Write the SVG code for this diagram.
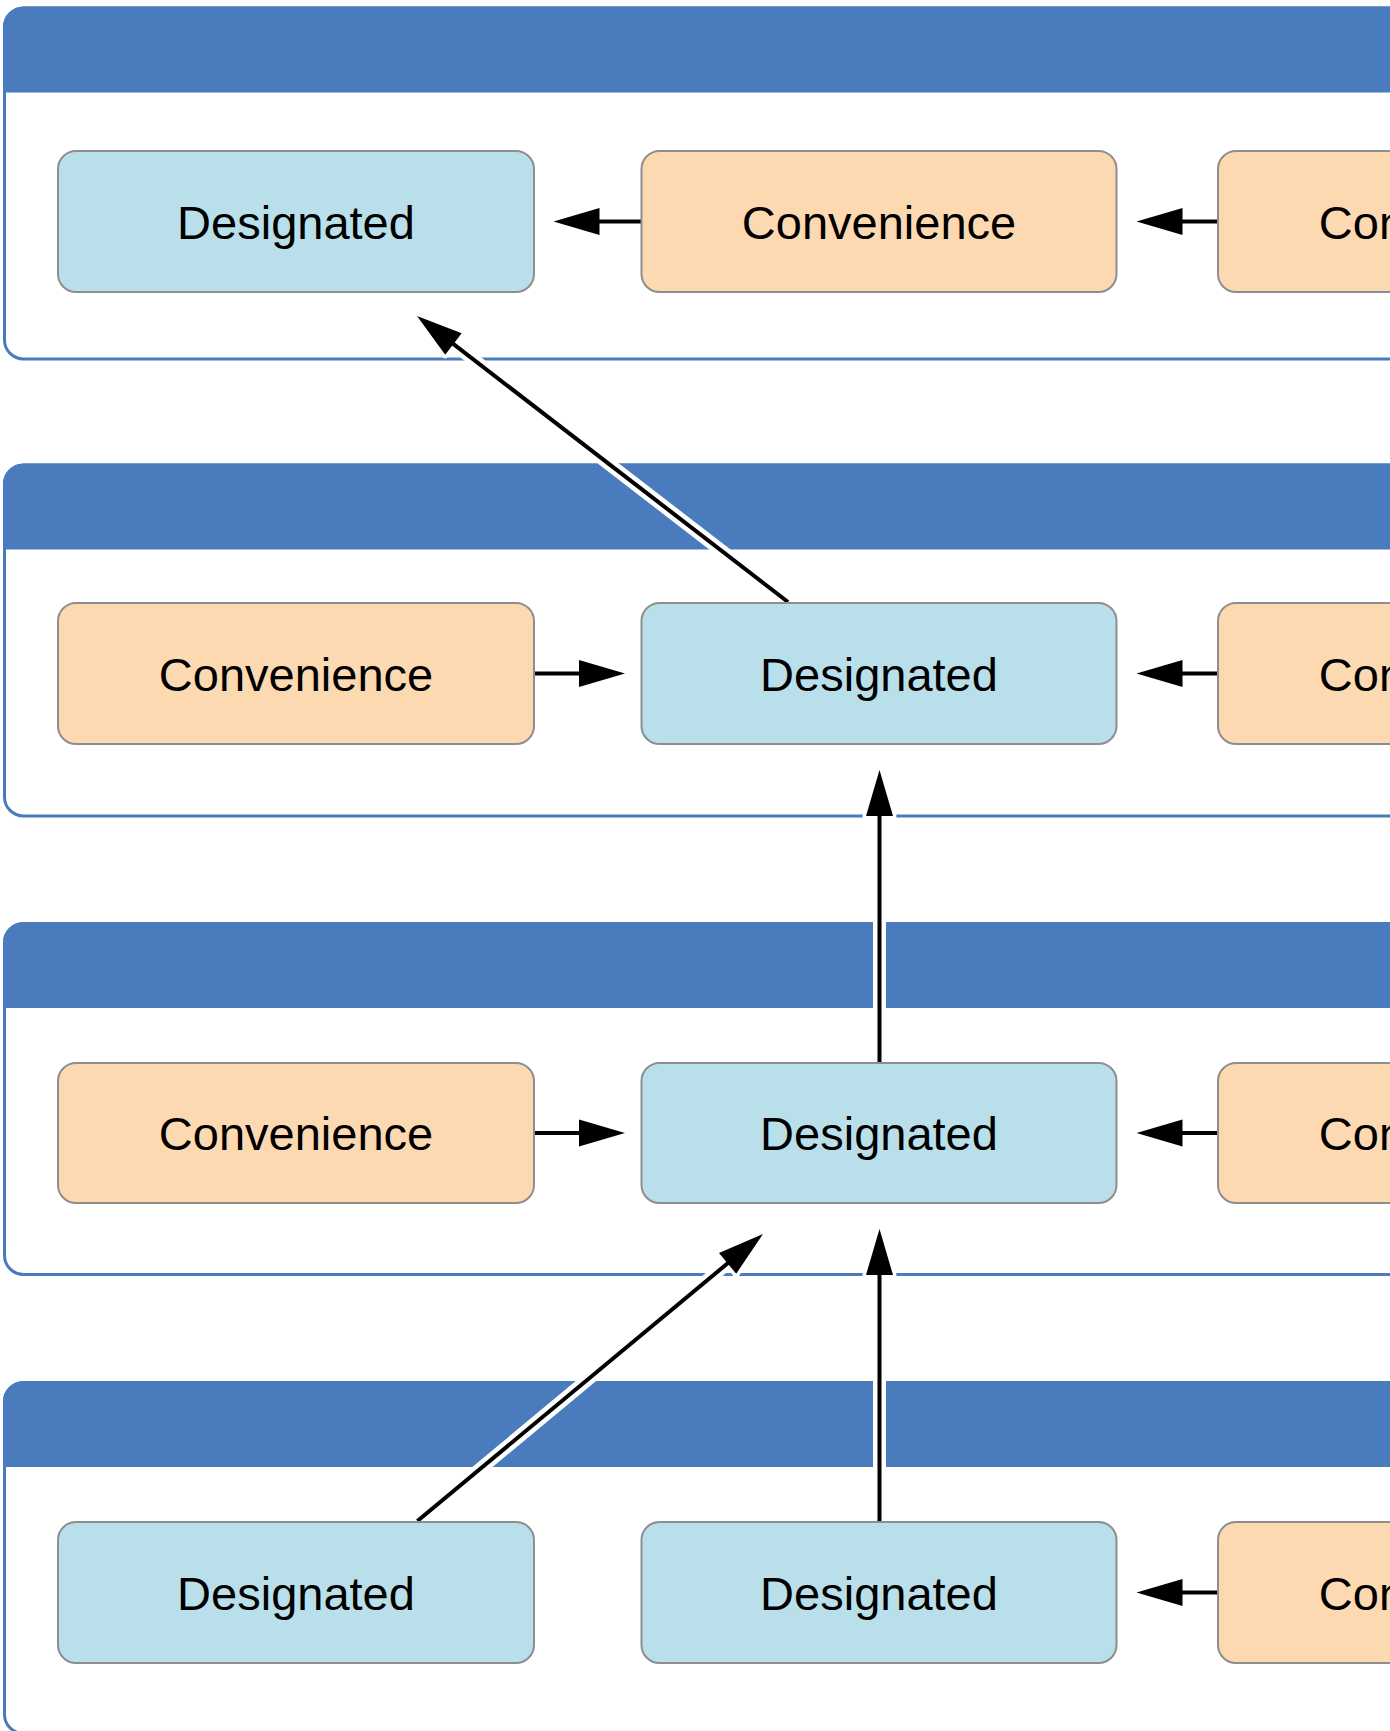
<svg xmlns="http://www.w3.org/2000/svg" xmlns:xlink="http://www.w3.org/1999/xlink" width="1390" height="1731" viewBox="0 0 1390 1731">
<style>
.body{fill:#ffffff;stroke:#4a7bbd;stroke-width:3}
.hdr{fill:#4a7bbd;stroke:#4a7bbd;stroke-width:3}
.des{fill:#b9dfea;stroke:#8e8e8e;stroke-width:2}
.con{fill:#fdd9b2;stroke:#8e8e8e;stroke-width:2}
.lbl{font-family:"Liberation Sans",Arial,Helvetica,sans-serif;font-size:47px;fill:#000;text-anchor:middle}
.hl{fill:none;stroke:#ffffff;stroke-width:13}
.hh{fill:#ffffff;stroke:#ffffff;stroke-width:7;stroke-linejoin:round}
.ln{fill:none;stroke:#000000;stroke-width:4}
.hd{fill:#000000;stroke:none}
</style>
<defs>
<path id="ah" d="M0,0 L-46,-13.5 L-46,13.5 Z"/>
<g id="container">
<rect class="body" x="4.5" y="0" width="1440" height="351" rx="19" ry="19"/>
<path class="hdr" d="M4.5,83 V19 A19,19 0 0 1 23.5,0 H1444.5 V83 Z"/>
</g>
</defs>
<rect x="0" y="0" width="1390" height="1731" fill="#ffffff"/>
<g id="containers">
<use id="class1" xlink:href="#container" href="#container" transform="translate(0,8)"/>
<use id="class2" xlink:href="#container" href="#container" transform="translate(0,465)"/>
<use id="class3" xlink:href="#container" href="#container" transform="translate(0,923.5)"/>
<use id="class4" xlink:href="#container" href="#container" transform="translate(0,1382.5)"/>
</g>
<g id="connectors">
<!-- halos -->
<path class="hl" d="M641.5,221.5 H590 M1218,221.5 H1175 M534,673.5 H590 M1218,673.5 H1175 M534,1133 H590 M1218,1133 H1175 M1218,1592.5 H1175 M788,602 L448.7,340.4 M879.5,1063 V800 M879.5,1522 V1260 M417.4,1521 L732.2,1259.5"/>
<use class="hh" href="#ah" xlink:href="#ah" transform="translate(553.5,221.5) rotate(180)"/>
<use class="hh" href="#ah" xlink:href="#ah" transform="translate(1136.5,221.5) rotate(180)"/>
<use class="hh" href="#ah" xlink:href="#ah" transform="translate(625,673.5)"/>
<use class="hh" href="#ah" xlink:href="#ah" transform="translate(1136.5,673.5) rotate(180)"/>
<use class="hh" href="#ah" xlink:href="#ah" transform="translate(625,1133)"/>
<use class="hh" href="#ah" xlink:href="#ah" transform="translate(1136.5,1133) rotate(180)"/>
<use class="hh" href="#ah" xlink:href="#ah" transform="translate(1136.5,1592.5) rotate(180)"/>
<use class="hh" href="#ah" xlink:href="#ah" transform="translate(417,316) rotate(217.6)"/>
<use class="hh" href="#ah" xlink:href="#ah" transform="translate(879.5,770) rotate(-90)"/>
<use class="hh" href="#ah" xlink:href="#ah" transform="translate(879.5,1229) rotate(-90)"/>
<use class="hh" href="#ah" xlink:href="#ah" transform="translate(763,1234) rotate(-39.66)"/>
<!-- ink -->
<path class="ln" d="M641.5,221.5 H590 M1218,221.5 H1175 M534,673.5 H590 M1218,673.5 H1175 M534,1133 H590 M1218,1133 H1175 M1218,1592.5 H1175 M788,602 L448.7,340.4 M879.5,1063 V800 M879.5,1522 V1260 M417.4,1521 L732.2,1259.5"/>
<use class="hd" href="#ah" xlink:href="#ah" transform="translate(553.5,221.5) rotate(180)"/>
<use class="hd" href="#ah" xlink:href="#ah" transform="translate(1136.5,221.5) rotate(180)"/>
<use class="hd" href="#ah" xlink:href="#ah" transform="translate(625,673.5)"/>
<use class="hd" href="#ah" xlink:href="#ah" transform="translate(1136.5,673.5) rotate(180)"/>
<use class="hd" href="#ah" xlink:href="#ah" transform="translate(625,1133)"/>
<use class="hd" href="#ah" xlink:href="#ah" transform="translate(1136.5,1133) rotate(180)"/>
<use class="hd" href="#ah" xlink:href="#ah" transform="translate(1136.5,1592.5) rotate(180)"/>
<use class="hd" href="#ah" xlink:href="#ah" transform="translate(417,316) rotate(217.6)"/>
<use class="hd" href="#ah" xlink:href="#ah" transform="translate(879.5,770) rotate(-90)"/>
<use class="hd" href="#ah" xlink:href="#ah" transform="translate(879.5,1229) rotate(-90)"/>
<use class="hd" href="#ah" xlink:href="#ah" transform="translate(763,1234) rotate(-39.66)"/>
</g>
<g id="r1c1"><rect class="des" x="58" y="151" width="476" height="141" rx="18"/><text class="lbl" x="296" y="238.5">Designated</text></g>
<g id="r1c2"><rect class="con" x="641.5" y="151" width="475" height="141" rx="18"/><text class="lbl" x="879" y="238.5">Convenience</text></g>
<g id="r1c3"><rect class="con" x="1218" y="151" width="476" height="141" rx="18"/><text class="lbl" x="1456" y="238.5">Convenience</text></g>
<g id="r2c1"><rect class="con" x="58" y="603" width="476" height="141" rx="18"/><text class="lbl" x="296" y="690.5">Convenience</text></g>
<g id="r2c2"><rect class="des" x="641.5" y="603" width="475" height="141" rx="18"/><text class="lbl" x="879" y="690.5">Designated</text></g>
<g id="r2c3"><rect class="con" x="1218" y="603" width="476" height="141" rx="18"/><text class="lbl" x="1456" y="690.5">Convenience</text></g>
<g id="r3c1"><rect class="con" x="58" y="1063" width="476" height="140" rx="18"/><text class="lbl" x="296" y="1150">Convenience</text></g>
<g id="r3c2"><rect class="des" x="641.5" y="1063" width="475" height="140" rx="18"/><text class="lbl" x="879" y="1150">Designated</text></g>
<g id="r3c3"><rect class="con" x="1218" y="1063" width="476" height="140" rx="18"/><text class="lbl" x="1456" y="1150">Convenience</text></g>
<g id="r4c1"><rect class="des" x="58" y="1522" width="476" height="141" rx="18"/><text class="lbl" x="296" y="1609.5">Designated</text></g>
<g id="r4c2"><rect class="des" x="641.5" y="1522" width="475" height="141" rx="18"/><text class="lbl" x="879" y="1609.5">Designated</text></g>
<g id="r4c3"><rect class="con" x="1218" y="1522" width="476" height="141" rx="18"/><text class="lbl" x="1456" y="1609.5">Convenience</text></g>
</svg>
